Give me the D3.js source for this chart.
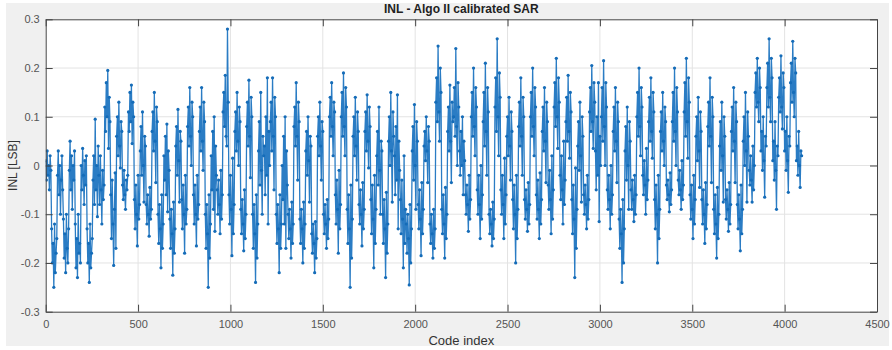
<!DOCTYPE html>
<html><head><meta charset="utf-8">
<script src="https://cdn.jsdelivr.net/npm/d3@7"></script>
<style>
html,body{margin:0;padding:0;background:#fff;}
svg{display:block;}
text{font-family:"Liberation Sans",Arial,Helvetica,sans-serif;}
</style></head>
<body>
<svg id="chart" width="892" height="350"></svg>
<script>
// ---- data (INL in LSB, one value every 4 codes) ----
const codeStep = 4;
const xTicks = [0,500,1000,1500,2000,2500,3000,3500,4000,4500];
const yTicks = [-0.3,-0.2,-0.1,0,0.1,0.2,0.3];
const yTickLabels = ["-0.3","-0.2","-0.1","0","0.1","0.2","0.3"];
const title = "INL - Algo II calibrated SAR";
const xLabel = "Code index";
const yLabel = "INL [LSB]";

// codes 0 - 1020
const inlQ1 = [
.01,-.03,.03,-.02,.0,-.05,.02,-.01,
-.13,-.2,-.16,-.25,-.12,-.22,-.18,-.15,
-.02,.03,-.06,.0,-.1,-.03,.02,-.05,
-.11,-.19,-.14,-.22,-.1,-.17,-.2,-.13,
-.01,.05,-.05,.02,-.09,.0,-.03,.03,
-.12,-.21,-.15,-.23,-.1,-.18,-.16,-.2,
.0,-.05,.035,-.02,-.08,.01,-.04,.02,
-.13,-.2,-.16,-.24,-.12,-.21,-.18,-.15,
-.03,.02,-.08,.095,-.05,.0,-.105,.04,
-.02,-.08,.02,-.05,-.12,-.01,-.07,-.04,
.12,.07,.17,.1,.195,.035,.14,.09,
-.06,-.15,-.03,-.12,-.205,-.09,-.015,-.17,
.06,.1,.02,.13,.04,-.005,.09,.07,
-.04,-.07,-.01,-.06,-.09,-.03,-.05,-.02,
.11,.07,.15,.09,.165,.045,.13,.1,
-.07,-.13,-.04,-.1,-.165,-.02,-.11,-.08,
.03,.08,-.02,.11,.0,-.075,.06,.04,
-.08,-.12,-.06,-.1,-.145,-.045,-.11,-.09,
.07,.11,.03,.15,.05,-.035,.12,.09,
-.1,-.16,-.08,-.13,-.21,-.06,-.17,-.12,
.02,-.03,.06,-.06,.085,-.095,.03,-.01,
-.11,-.17,-.09,-.14,-.225,-.075,-.18,-.13,
.04,.08,-.02,.115,.01,-.075,.07,.05,
-.07,-.13,-.04,-.1,-.18,-.02,-.12,-.09,
.08,.12,.04,.16,.06,.0,.13,.1,
-.06,-.12,-.04,-.1,-.165,-.02,-.11,-.08,
.07,.12,.03,.16,.05,-.01,.13,.09,
-.1,-.17,-.08,-.14,-.25,-.06,-.19,-.12,
.02,-.05,.07,-.09,.1,-.135,.04,-.02,
-.05,-.1,-.03,-.08,-.14,-.01,-.11,-.06,
.11,.15,.08,.185,.06,.04,.28,.13,
-.06,-.12,-.02,-.09,-.185,.015,-.14,-.08
];
// codes 1024 - 2044
const inlQ2 = [
.07,.11,.03,.15,.05,.0,.12,.09,
-.09,-.14,-.07,-.12,-.175,-.05,-.15,-.1,
.08,.13,.04,.175,.06,-.025,.14,.1,
-.1,-.17,-.08,-.14,-.24,-.06,-.19,-.12,
.03,.09,-.04,.15,-.01,-.1,.06,.02,
.04,-.06,.1,-.02,.18,-.12,.07,.0,
.09,.13,.03,.18,.06,-.05,.14,.1,
-.1,-.16,-.08,-.13,-.22,-.06,-.17,-.12,
.0,-.07,.06,-.12,.1,-.17,.03,-.04,
-.1,-.15,-.09,-.13,-.19,-.075,-.16,-.12,
.08,.12,.04,.17,.06,-.03,.13,.09,
-.11,-.16,-.09,-.13,-.2,-.075,-.17,-.12,
.03,.07,-.02,.1,.01,-.075,.06,.04,
-.14,-.18,-.12,-.16,-.22,-.115,-.19,-.15,
.06,.1,.02,.13,.04,-.03,.09,.07,
-.1,-.14,-.08,-.12,-.17,-.07,-.15,-.11,
.1,.14,.06,.17,.08,.02,.13,.11,
-.06,-.12,-.03,-.09,-.18,-.01,-.13,-.08,
.1,.15,.06,.19,.08,.02,.16,.12,
-.09,-.16,-.06,-.13,-.25,-.04,-.19,-.11,
.06,.1,.02,.14,.04,-.03,.11,.07,
-.08,-.12,-.05,-.1,-.165,-.035,-.13,-.09,
.07,.11,.03,.145,.05,-.005,.12,.08,
-.07,-.14,-.04,-.11,-.21,-.02,-.16,-.09,
.02,.07,-.04,.12,-.01,-.1,.05,.03,
-.1,-.16,-.07,-.13,-.23,-.055,-.18,-.12,
.05,.1,.0,.15,.03,-.075,.11,.06,
.02,-.06,.08,-.03,.145,-.13,.05,-.01,
-.07,-.14,-.03,-.11,-.21,.02,-.16,-.09,
-.12,-.18,-.1,-.15,-.245,-.08,-.2,-.13,
.03,.08,-.03,.125,.0,-.09,.09,.05,
-.08,-.13,-.05,-.11,-.185,-.035,-.14,-.09
];
// codes 2048 - 3068
const inlQ3 = [
.04,.07,.01,.1,.03,-.035,.08,.05,
-.12,-.16,-.1,-.14,-.19,-.09,-.17,-.13,
.13,.18,.09,.245,.11,.05,.2,.15,
-.09,-.14,-.06,-.12,-.19,-.045,-.15,-.1,
.07,.12,.03,.165,.05,-.035,.13,.09,
.1,.16,.06,.24,.08,.0,.17,.12,
.03,-.02,.07,.0,.1,-.06,.05,.01,
-.06,-.1,-.04,-.08,-.135,-.02,-.11,-.07,
.1,.15,.06,.2,.08,.02,.16,.12,
-.05,-.1,-.02,-.08,-.15,.0,-.11,-.06,
.09,.15,.04,.21,.07,-.02,.16,.11,
-.1,-.14,-.09,-.12,-.165,-.075,-.15,-.11,
.12,.18,.07,.26,.1,.02,.19,.14,
-.05,-.1,-.02,-.08,-.15,.015,-.12,-.06,
.06,.1,.02,.14,.04,-.03,.11,.07,
-.07,-.13,-.04,-.1,-.2,-.02,-.15,-.09,
.08,.13,.04,.18,.06,-.02,.14,.1,
-.07,-.11,-.05,-.09,-.135,-.035,-.12,-.08,
.1,.15,.06,.2,.08,.02,.16,.12,
-.06,-.11,-.03,-.09,-.15,-.015,-.12,-.07,
.07,.12,.03,.16,.05,-.035,.13,.09,
-.04,-.09,-.01,-.07,-.14,.02,-.11,-.05,
.12,.17,.08,.22,.1,.035,.18,.13,
-.02,-.07,.02,-.05,-.12,.05,-.08,-.03,
.09,.14,.05,.185,.07,.015,.15,.11,
-.07,-.14,-.04,-.11,-.23,-.005,-.17,-.09,
.04,.09,-.01,.13,.02,-.075,.1,.06,
-.06,-.1,-.04,-.08,-.13,-.02,-.11,-.07,
.11,.16,.07,.205,.09,.035,.17,.13,
.03,-.05,.1,-.02,.17,-.115,.06,.0,
.1,.16,.05,.215,.08,.0,.17,.12,
-.05,-.09,-.02,-.07,-.13,.0,-.1,-.06
];
// codes 3072 - 4092
const inlQ4 = [
.07,.12,.03,.16,.05,-.035,.13,.09,
-.11,-.17,-.09,-.14,-.24,-.07,-.2,-.13,
.03,.08,-.03,.12,.0,-.09,.09,.05,
-.05,-.09,-.03,-.07,-.115,-.02,-.1,-.06,
.1,.15,.06,.2,.08,.02,.16,.12,
-.02,-.06,.01,-.04,-.1,.035,-.07,-.03,
.09,.14,.05,.18,.07,.015,.15,.11,
-.07,-.13,-.04,-.1,-.2,-.02,-.15,-.09,
.07,.11,.03,.15,.05,.0,.12,.09,
-.04,-.07,-.03,-.06,-.095,-.015,-.08,-.05,
.09,.15,.05,.2,.07,.0,.16,.11,
-.03,-.06,-.01,-.05,-.09,.01,-.07,-.04,
.11,.17,.06,.22,.09,.015,.18,.13,
-.06,-.11,-.04,-.09,-.15,-.02,-.12,-.07,
.06,.1,.01,.14,.03,-.045,.11,.07,
-.07,-.12,-.05,-.1,-.16,-.035,-.13,-.08,
.08,.13,.04,.18,.06,-.035,.14,.1,
-.09,-.14,-.06,-.12,-.19,-.045,-.15,-.1,
.04,.09,-.01,.13,.02,-.075,.1,.06,
-.07,-.11,-.05,-.09,-.135,-.035,-.12,-.08,
.07,.12,.03,.16,.05,-.035,.13,.09,
-.08,-.13,-.06,-.11,-.175,-.04,-.14,-.09,
.05,.1,.0,.15,.03,-.075,.11,.06,
-.01,-.04,.02,-.03,-.075,.04,-.05,.0,
.15,.19,.12,.22,.13,.09,.2,.16,
.03,.07,-.01,.1,.01,-.065,.06,.04,
.16,.21,.12,.26,.14,.09,.22,.18,
.01,.05,-.03,.09,-.01,-.09,.04,.02,
.14,.18,.11,.225,.12,.075,.19,.16,
.03,.07,-.01,.1,.01,-.055,.06,.04,
.17,.21,.13,.255,.15,.1,.22,.19,
.01,.04,-.02,.07,.0,-.045,.03,.02
];

const inl = [...inlQ1, ...inlQ2, ...inlQ3, ...inlQ4];
const points = inl.map((v, i) => ({code: i * codeStep, v}));

// ---- layout ----
const plot = {left: 45.7, right: 877, top: 19.3, bottom: 311.7};
const svg = d3.select("#chart");

svg.append("rect").attr("x", 6).attr("y", 3).attr("width", 883).attr("height", 343).attr("fill", "#f0f0f0");
svg.append("rect").attr("x", plot.left).attr("y", plot.top)
  .attr("width", plot.right - plot.left).attr("height", plot.bottom - plot.top).attr("fill", "#fff");

const x = d3.scaleLinear().domain([0, 4500]).range([plot.left, plot.right]);
const y = d3.scaleLinear().domain([-0.3, 0.3]).range([plot.bottom, plot.top]);

// grid
const grid = svg.append("g").attr("stroke", "#e3e3e3").attr("stroke-width", 1);
grid.selectAll("line.gx").data(xTicks.slice(1, -1)).join("line")
  .attr("x1", d => x(d)).attr("x2", d => x(d)).attr("y1", plot.top).attr("y2", plot.bottom);
grid.selectAll("line.gy").data(yTicks.slice(1, -1)).join("line")
  .attr("y1", d => y(d)).attr("y2", d => y(d)).attr("x1", plot.left).attr("x2", plot.right);

// data
svg.append("clipPath").attr("id", "clip").append("rect")
  .attr("x", plot.left).attr("y", plot.top).attr("width", plot.right - plot.left).attr("height", plot.bottom - plot.top);
const dataG = svg.append("g").attr("clip-path", "url(#clip)");
const line = d3.line().x(d => x(d.code)).y(d => y(d.v));
dataG.append("path").datum(points).attr("d", line)
  .attr("fill", "none").attr("stroke", "#2a7cc4").attr("stroke-width", 1.3).attr("stroke-linejoin", "round");
dataG.selectAll("circle").data(points).join("circle")
  .attr("cx", d => x(d.code)).attr("cy", d => y(d.v)).attr("r", 1.6).attr("fill", "#156cb8");

// axes
const tickCol = "#555";
const fmtY = d => yTickLabels[yTicks.indexOf(d)];
const axB = svg.append("g").attr("transform", `translate(0,${plot.bottom})`)
  .call(d3.axisBottom(x).tickValues(xTicks).tickSizeInner(-7).tickSizeOuter(0).tickPadding(9).tickFormat(d3.format("d")));
const axT = svg.append("g").attr("transform", `translate(0,${plot.top})`)
  .call(d3.axisTop(x).tickValues(xTicks).tickSizeInner(-7).tickSizeOuter(0).tickFormat(""));
const axL = svg.append("g").attr("transform", `translate(${plot.left},0)`)
  .call(d3.axisLeft(y).tickValues(yTicks).tickSizeInner(-7).tickSizeOuter(0).tickPadding(6).tickFormat(fmtY));
const axR = svg.append("g").attr("transform", `translate(${plot.right},0)`)
  .call(d3.axisRight(y).tickValues(yTicks).tickSizeInner(-7).tickSizeOuter(0).tickFormat(""));
[axB, axT, axL, axR].forEach(g => {
  g.select(".domain").attr("stroke", "#444").attr("stroke-width", 1);
  g.selectAll(".tick line").attr("stroke", "#444").attr("stroke-width", 1);
  g.selectAll(".tick text").attr("fill", tickCol).attr("font-size", 11)
    .attr("font-family", "'Liberation Sans', Arial, sans-serif");
});

// titles
svg.append("text").attr("x", (plot.left + plot.right) / 2).attr("y", 13)
  .attr("text-anchor", "middle").attr("font-size", 12).attr("font-weight", "bold").attr("fill", "#222").text(title);
svg.append("text").attr("x", (plot.left + plot.right) / 2).attr("y", 345)
  .attr("text-anchor", "middle").attr("font-size", 13).attr("fill", "#333").text(xLabel);
svg.append("text").attr("transform", `translate(17,${(plot.top + plot.bottom) / 2}) rotate(-90)`)
  .attr("text-anchor", "middle").attr("font-size", 12).attr("fill", "#333").text(yLabel);
</script>
</body></html>
